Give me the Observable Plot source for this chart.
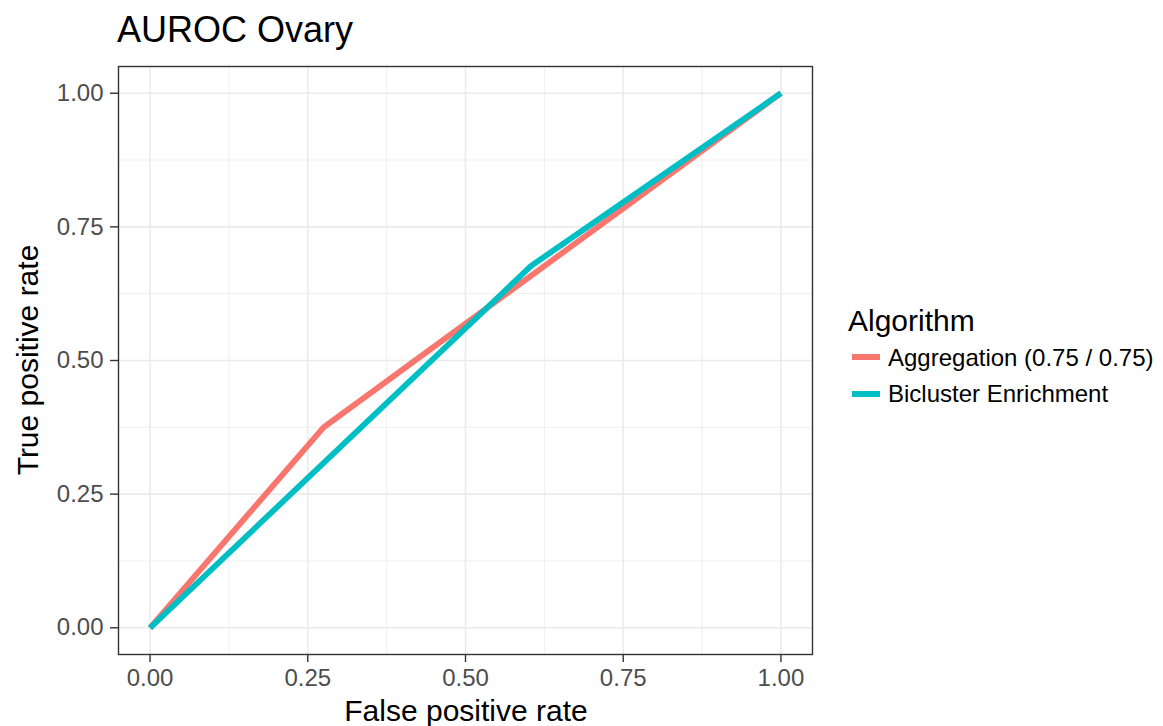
<!DOCTYPE html>
<html>
<head>
<meta charset="utf-8">
<script src="https://cdn.jsdelivr.net/npm/d3@7"></script>
<script src="https://cdn.jsdelivr.net/npm/@observablehq/plot@0.6"></script>
<style>
  body { margin: 0; background: #fff; font-family: "Liberation Sans", Arial, sans-serif; }
  #wrap { position: relative; width: 1163px; height: 726px; overflow: hidden; }
  .abs { position: absolute; white-space: nowrap; color: #000; line-height: 1; }
</style>
</head>
<body>
<div id="wrap"></div>
<script>
const titleText = "AUROC Ovary";
const xLabel = "False positive rate";
const yLabel = "True positive rate";
const legendTitle = "Algorithm";
const seriesNames = ["Aggregation (0.75 / 0.75)", "Bicluster Enrichment"];
const seriesColors = ["#F8766D", "#00BFC4"];
const aggFpr = [0, 0.275, 1];
const aggTpr = [0, 0.375, 1];
const bicFpr = [0, 0.604, 1];
const bicTpr = [0, 0.677, 1];
const majorTicks = [0, 0.25, 0.5, 0.75, 1];
const minorTicks = [0.125, 0.375, 0.625, 0.875];

const data = [
  ...aggFpr.map((x, i) => ({x, y: aggTpr[i], s: seriesNames[0]})),
  ...bicFpr.map((x, i) => ({x, y: bicTpr[i], s: seriesNames[1]}))
];

const fmt = d3.format(".2f");
const plot = Plot.plot({
  width: 1163,
  height: 726,
  marginTop: 66,
  marginLeft: 118,
  marginRight: 351,
  marginBottom: 72,
  style: {fontFamily: "Liberation Sans, Arial, sans-serif", background: "transparent"},
  x: {domain: [-0.05, 1.05]},
  y: {domain: [-0.05, 1.05]},
  color: {domain: seriesNames, range: seriesColors},
  marks: [
    Plot.ruleX(minorTicks, {stroke: "#EBEBEB", strokeWidth: 0.8}),
    Plot.ruleY(minorTicks, {stroke: "#EBEBEB", strokeWidth: 0.8}),
    Plot.ruleX(majorTicks, {stroke: "#EBEBEB", strokeWidth: 1.6}),
    Plot.ruleY(majorTicks, {stroke: "#EBEBEB", strokeWidth: 1.6}),
    Plot.line(data, {x: "x", y: "y", z: "s", stroke: "s", strokeWidth: 5.8, strokeLinecap: "butt", strokeLinejoin: "round"}),
    Plot.frame({stroke: "#333333", strokeWidth: 1.4}),
    Plot.axisX(majorTicks, {tickFormat: fmt, tickSize: 8, tickPadding: 6, fontSize: 24, stroke: "#333333", strokeWidth: 1.4, fill: "#4D4D4D", label: null}),
    Plot.axisY(majorTicks, {tickFormat: fmt, tickSize: 8, tickPadding: 7, fontSize: 24, stroke: "#333333", strokeWidth: 1.4, fill: "#4D4D4D", label: null})
  ]
});

const wrap = document.getElementById("wrap");
plot.style.position = "absolute";
plot.style.left = "0px";
plot.style.top = "0px";
wrap.appendChild(plot);

function addText(txt, css) {
  const d = document.createElement("div");
  d.className = "abs";
  d.textContent = txt;
  Object.assign(d.style, css);
  wrap.appendChild(d);
  return d;
}
addText(titleText, {left: "117px", top: "12px", fontSize: "36px"});
addText(xLabel, {left: "466px", top: "696px", fontSize: "30px", transform: "translateX(-50%)"});
addText(yLabel, {left: "28px", top: "360px", fontSize: "30px", transform: "translate(-50%,-50%) rotate(-90deg)"});
addText(legendTitle, {left: "848px", top: "306px", fontSize: "30px"});
const keyY = [357, 394];
const labelTop = [346, 382];
seriesNames.forEach((n, i) => {
  const sw = document.createElement("div");
  sw.className = "abs";
  Object.assign(sw.style, {left: "852px", top: (keyY[i] - 3) + "px", width: "28px", height: "6px", background: seriesColors[i]});
  wrap.appendChild(sw);
  addText(n, {left: "888px", top: labelTop[i] + "px", fontSize: "24px"});
});
</script>
</body>
</html>
